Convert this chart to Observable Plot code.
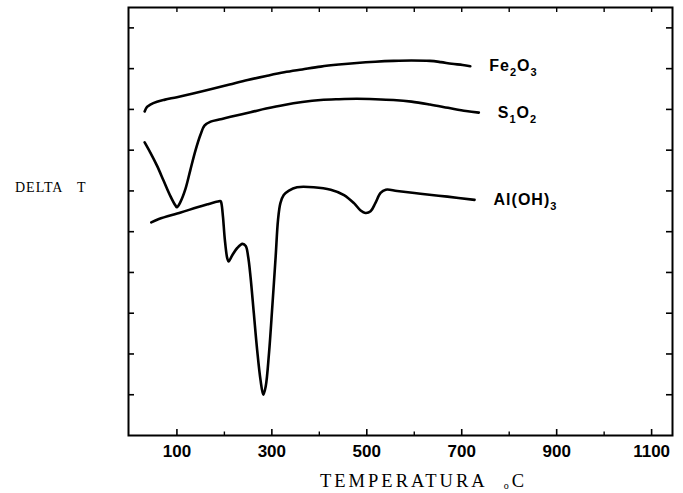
<!DOCTYPE html>
<html>
<head>
<meta charset="utf-8">
<script src="https://cdn.jsdelivr.net/npm/d3@7"></script>
<script src="https://cdn.jsdelivr.net/npm/@observablehq/plot@0.6"></script>
<style>
  html, body { margin: 0; padding: 0; background: white; }
</style>
</head>
<body>
<div id="chart"></div>
<script>
// Temperature (°C) and DELTA T readings (arbitrary units, tick = 1)
const feT = [32,37,44,58,75,100,134,173,211,249,288,326,364,403,441,479,518,556,594,633,656,679,702,718];
const feV = [7.95,8.06,8.12,8.19,8.24,8.3,8.39,8.5,8.61,8.72,8.82,8.91,8.98,9.05,9.1,9.14,9.17,9.19,9.2,9.19,9.16,9.12,9.09,9.06];

const siT = [32,44,58,72,86,97,100,107,118,128,139,150,158,171,192,213,255,288,326,364,403,441,479,518,556,594,633,671,709,736];
const siV = [7.19,6.94,6.62,6.25,5.88,5.64,5.6,5.72,6.05,6.5,6.99,7.39,7.6,7.7,7.76,7.82,7.93,8.02,8.11,8.18,8.23,8.25,8.26,8.25,8.23,8.19,8.12,8.04,7.96,7.92];

const alT = [46,62,108,143,167,186,192,194,197,201,206,209,216,227,238,245,250,255,262,269,276,282,287,294,301,308,313,318,325,336,353,388,424,452,473,487,497,508,518,529,540,564,613,670,727];
const alV = [5.23,5.31,5.47,5.6,5.68,5.74,5.75,5.68,5.37,4.80,4.35,4.27,4.41,4.60,4.70,4.65,4.39,3.90,3.00,2.10,1.37,1.00,1.20,2.02,3.17,4.39,5.29,5.70,5.90,6.01,6.09,6.09,6.03,5.90,5.70,5.52,5.46,5.50,5.70,5.95,6.03,6.00,5.93,5.86,5.78];

const seriesNames = ["Fe2O3", "S1O2", "Al(OH)3"];

const xMajorTicks = [100,300,500,700,900,1100];
const xMinorTicks = [200,400,600,800,1000];
const xTopTicks = [100,200,300,400,500,600,700,800,900,1000,1100];
const yTicks = [1,2,3,4,5,6,7,8,9,10];

const yLabel = "DELTA\u00a0\u00a0\u00a0T";
const xLabel = "TEMPERATURA";
const xUnit = "C";

const rows = [];
[[feT, feV], [siT, siV], [alT, alV]].forEach(([ts, vs], i) => {
  ts.forEach((t, j) => rows.push({series: seriesNames[i], T: t, v: vs[j]}));
});

const chart = Plot.plot({
  width: 683,
  height: 493,
  marginLeft: 128,
  marginRight: 11,
  marginTop: 7,
  marginBottom: 58,
  x: {domain: [-2, 1144]},
  y: {domain: [0, 10.5], axis: null},
  style: {fontFamily: "Liberation Sans, Arial, sans-serif", background: "white", color: "black"},
  marks: [
    Plot.frame({stroke: "black", strokeWidth: 2}),
    Plot.tickX(xMajorTicks, {x: d => d, insetTop: 422, stroke: "black", strokeWidth: 1.6}),
    Plot.tickX(xMinorTicks, {x: d => d, insetTop: 424.5, stroke: "black", strokeWidth: 1.4}),
    Plot.tickX(xTopTicks, {x: d => d, insetBottom: 423, stroke: "black", strokeWidth: 1.4}),
    Plot.tickY(yTicks, {y: d => d, insetRight: 538, stroke: "black", strokeWidth: 1.6}),
    Plot.tickY(yTicks, {y: d => d, insetLeft: 538, stroke: "black", strokeWidth: 1.6}),
    Plot.axisX(xMajorTicks, {tickSize: 0, tickPadding: 9, fontSize: 17, fontWeight: "bold", label: null, tickFormat: d => String(d)}),
    Plot.line(rows, {x: "T", y: "v", z: "series", stroke: "black", strokeWidth: 2.6, curve: "catmull-rom", strokeLinecap: "round", strokeLinejoin: "round"}),
    Plot.text(rows, Plot.selectLast({x: "T", y: "v", z: "series", text: "series", dx: 19, textAnchor: "start", fontSize: 16, fontWeight: "bold", fill: "black"}))
  ]
});

document.getElementById("chart").appendChild(chart);

const svg = d3.select(chart);

// Render chemical formula digits as subscripts
svg.selectAll("text").filter(function() {
  return seriesNames.includes(this.textContent);
}).each(function() {
  const t = d3.select(this);
  const s = this.textContent;
  t.selectAll("*").remove();
  this.textContent = "";
  t.attr("letter-spacing", 1);
  let sub = false;
  for (const ch of s) {
    const isDigit = /[0-9]/.test(ch);
    const ts = t.append("tspan").text(ch);
    if (isDigit && !sub) { ts.attr("dy", 5); sub = true; }
    else if (!isDigit && sub) { ts.attr("dy", -5); sub = false; }
    if (isDigit) ts.attr("font-size", 11);
  }
});

// Axis titles
svg.append("text")
  .attr("x", 15).attr("y", 192)
  .attr("text-anchor", "start")
  .attr("font-family", "Liberation Serif, Times New Roman, serif")
  .attr("font-size", 14)
  .attr("letter-spacing", 1)
  .attr("fill", "black")
  .text(yLabel);

const xt = svg.append("text")
  .attr("x", 320).attr("y", 487)
  .attr("text-anchor", "start")
  .attr("font-family", "Liberation Serif, Times New Roman, serif")
  .attr("font-size", 18.5)
  .attr("letter-spacing", 3)
  .attr("fill", "black");
xt.append("tspan").text(xLabel);
xt.append("tspan").attr("dx", 16).attr("dy", 2).attr("font-size", 10).text("o");
xt.append("tspan").attr("dx", 0).attr("dy", -2).text(xUnit);
</script>
</body>
</html>
